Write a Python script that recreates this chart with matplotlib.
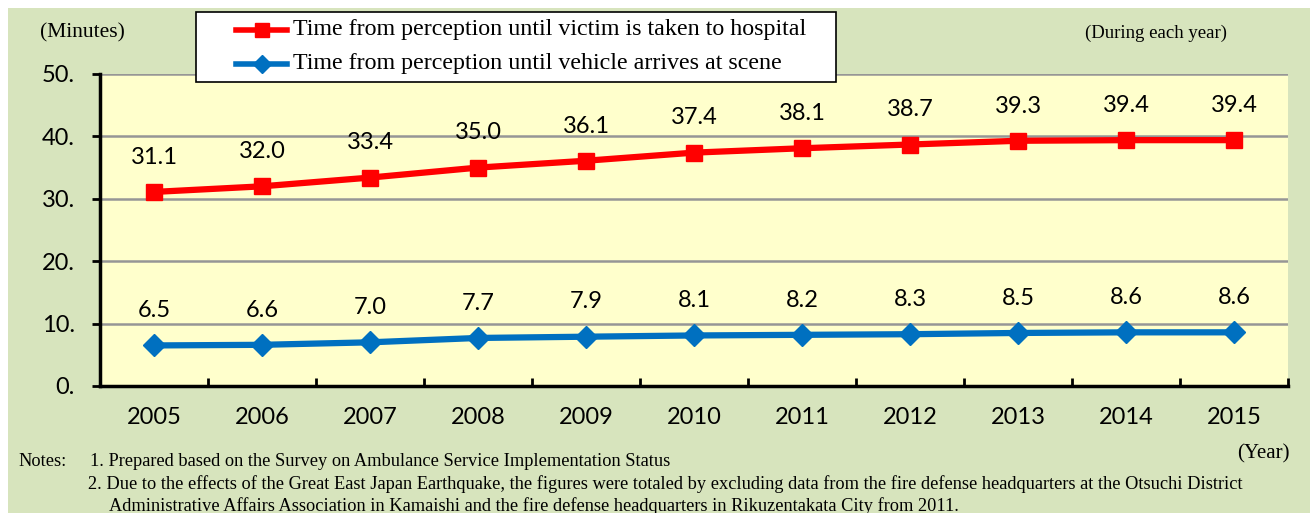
import matplotlib
matplotlib.use("Agg")
import matplotlib.pyplot as plt
from matplotlib.lines import Line2D

years = ["2005", "2006", "2007", "2008", "2009", "2010", "2011", "2012", "2013", "2014", "2015"]
hospital = [31.1, 32.0, 33.4, 35.0, 36.1, 37.4, 38.1, 38.7, 39.3, 39.4, 39.4]
scene = [6.5, 6.6, 7.0, 7.7, 7.9, 8.1, 8.2, 8.3, 8.5, 8.6, 8.6]
yticks = [0, 10, 20, 30, 40, 50]
ytick_labels = ["0.", "10.", "20.", "30.", "40.", "50."]
label_hospital = "Time from perception until victim is taken to hospital"
label_scene = "Time from perception until vehicle arrives at scene"

RED = "#FF0000"
BLUE = "#0070C0"
BG = "#D7E4BD"
PLOT_BG = "#FFFFCC"
NUM_FONT = "Lato"
SERIF = "Liberation Serif"
NUM_SIZE = 17

W, H = 1310, 513
fig = plt.figure(figsize=(W / 100, H / 100), dpi=100)
fig.patch.set_facecolor("white")
fig.add_artist(plt.Rectangle((8 / W, 0), 1 - 8 / W, 1 - 8 / H, transform=fig.transFigure,
                             facecolor=BG, edgecolor="none", zorder=-10))


def fx(px):
    return px / W


def fy(py):
    return 1 - py / H


left, right, top, bottom = 100, 1288, 74, 386
ax = fig.add_axes([left / W, 1 - bottom / H, (right - left) / W, (bottom - top) / H])
ax.set_facecolor(PLOT_BG)

x = list(range(len(years)))
ax.set_xlim(-0.5, len(years) - 0.5)
ax.set_ylim(0, 50)

for y in yticks[1:]:
    ax.axhline(y, color="#969696", lw=1.8, zorder=1)

ax.plot(x, hospital, color=RED, lw=4.5, marker="s", ms=12, mfc=RED, mec=RED, zorder=3)
ax.plot(x, scene, color=BLUE, lw=4.5, marker="D", ms=11, mfc=BLUE, mec=BLUE, zorder=3)

for xi, v in zip(x, hospital):
    ax.annotate(f"{v:.1f}", (xi, v), xytext=(0, 25), textcoords="offset points",
                ha="center", va="center", fontsize=NUM_SIZE, family=NUM_FONT, color="black")
for xi, v in zip(x, scene):
    ax.annotate(f"{v:.1f}", (xi, v), xytext=(0, 25), textcoords="offset points",
                ha="center", va="center", fontsize=NUM_SIZE, family=NUM_FONT, color="black")

for s in ["top", "right"]:
    ax.spines[s].set_visible(False)
for s in ["left", "bottom"]:
    ax.spines[s].set_color("black")
    ax.spines[s].set_linewidth(2.5)
    ax.spines[s].set_zorder(4)

ax.set_yticks(yticks)
ax.set_yticklabels(ytick_labels, fontsize=NUM_SIZE, family=NUM_FONT)
ax.tick_params(axis="y", direction="out", length=6, width=2, pad=12)

ax.set_xticks([i + 0.5 for i in range(len(years))])
ax.set_xticklabels([])
ax.tick_params(axis="x", direction="in", length=6, width=2)
for xi, yr in zip(x, years):
    ax.text(xi, -0.1, yr, transform=ax.get_xaxis_transform(), ha="center", va="center",
            fontsize=NUM_SIZE, family=NUM_FONT)

# legend drawn manually
fig.add_artist(plt.Rectangle((fx(196), fy(82)), fx(836) - fx(196), fy(12) - fy(82),
                             transform=fig.transFigure, facecolor="white", edgecolor="black",
                             lw=1.2, zorder=10))
for py, col, mk, ms, lab in [(30, RED, "s", 10, label_hospital), (64, BLUE, "D", 9, label_scene)]:
    fig.add_artist(Line2D([fx(236), fx(287)], [fy(py), fy(py)], transform=fig.transFigure,
                          color=col, lw=4, zorder=11))
    fig.add_artist(Line2D([fx(261.5)], [fy(py)], transform=fig.transFigure, color=col,
                          marker=mk, ms=ms, mfc=col, mec=col, zorder=12))
    fig.text(fx(293), fy(py), lab, family=SERIF, fontsize=17.3, ha="left", va="center", zorder=12)

fig.text(fx(40), fy(33), "(Minutes)", family=SERIF, fontsize=15.5, ha="left", va="center")
fig.text(fx(1227), fy(33), "(During each year)", family=SERIF, fontsize=13.5, ha="right", va="center")
fig.text(fx(1290), fy(454), "(Year)", family=SERIF, fontsize=15, ha="right", va="center")

NS = 13.2
fig.text(fx(18), fy(461), "Notes:", family=SERIF, fontsize=NS, ha="left", va="center")
fig.text(fx(90), fy(461), "1. Prepared based on the Survey on Ambulance Service Implementation Status",
         family=SERIF, fontsize=NS, ha="left", va="center")
fig.text(fx(88), fy(484),
         "2. Due to the effects of the Great East Japan Earthquake, the figures were totaled by excluding data from the fire defense headquarters at the Otsuchi District",
         family=SERIF, fontsize=NS, ha="left", va="center")
fig.text(fx(109), fy(506),
         "Administrative Affairs Association in Kamaishi and the fire defense headquarters in Rikuzentakata City from 2011.",
         family=SERIF, fontsize=NS, ha="left", va="center")

fig.savefig("out.png", dpi=100, facecolor=fig.get_facecolor())
